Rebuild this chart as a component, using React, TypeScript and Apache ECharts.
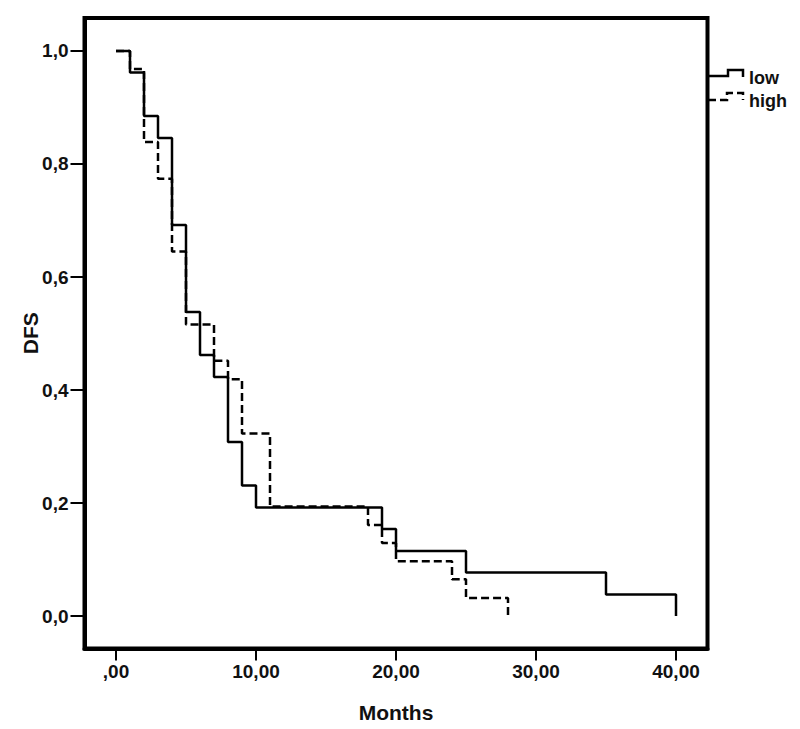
import React, { useEffect, useRef } from "react";
import * as echarts from "echarts";

// Kaplan-Meier step data (month of event, survival after event)
const lowMonths = [0, 1, 2, 3, 4, 5, 6, 7, 8, 9, 10, 19, 20, 25, 35, 40];
const lowSurvival = [1, 0.962, 0.885, 0.846, 0.692, 0.538, 0.462, 0.423, 0.308, 0.231, 0.192, 0.154, 0.115, 0.077, 0.038, 0];
const highMonths = [0, 1, 2, 3, 4, 5, 7, 8, 9, 11, 18, 19, 20, 24, 25, 28];
const highSurvival = [1, 0.968, 0.839, 0.774, 0.645, 0.516, 0.452, 0.419, 0.323, 0.194, 0.161, 0.129, 0.097, 0.065, 0.032, 0];

const seriesNames = ["low", "high"];
const xTickValues = [0, 10, 20, 30, 40];
const xTickLabels = [",00", "10,00", "20,00", "30,00", "40,00"];
const yTickValues = [0, 0.2, 0.4, 0.6, 0.8, 1.0];
const yTickLabels = ["0,0", "0,2", "0,4", "0,6", "0,8", "1,0"];
const xTitle = "Months";
const yTitle = "DFS";

const FONT = '"Liberation Sans", Arial, Helvetica, sans-serif';

export default function App() {
  const ref = useRef<HTMLDivElement | null>(null);

  useEffect(() => {
    if (!ref.current) return;
    const chart = echarts.init(ref.current, undefined, { renderer: "svg" });

    const lowData = lowMonths.map((m, i) => [m, lowSurvival[i]]);
    const highData = highMonths.map((m, i) => [m, highSurvival[i]]);

    const findLabel = (vals: number[], labels: string[], v: number) => {
      const idx = vals.findIndex((t) => Math.abs(t - v) < 1e-6);
      return idx >= 0 ? labels[idx] : "";
    };

    chart.setOption({
      animation: false,
      backgroundColor: "#ffffff",
      grid: {
        left: 84.5,
        top: 18,
        width: 623,
        height: 630.5,
        containLabel: false,
        show: true,
        borderColor: "#000",
        borderWidth: 4,
        backgroundColor: "transparent",
      },
      xAxis: {
        type: "value",
        min: -2.25,
        max: 42.25,
        axisLine: { show: true, onZero: false, lineStyle: { color: "#000", width: 4 } },
        axisTick: {
          show: true,
          inside: false,
          length: 12,
          customValues: xTickValues,
          lineStyle: { color: "#000", width: 2 },
        },
        axisLabel: {
          margin: 13,
          color: "#111",
          fontFamily: FONT,
          fontWeight: "bold",
          fontSize: 19,
          customValues: xTickValues,
          formatter: (v: number) => findLabel(xTickValues, xTickLabels, v),
        },
        splitLine: { show: false },
        name: xTitle,
        nameLocation: "middle",
        nameGap: 53,
        nameMoveOverlap: false,
        nameTextStyle: { color: "#111", fontFamily: FONT, fontWeight: "bold", fontSize: 21 },
      },
      yAxis: {
        type: "value",
        min: -0.0575,
        max: 1.0584,
        axisLine: { show: true, onZero: false, lineStyle: { color: "#000", width: 4 } },
        axisTick: {
          show: true,
          inside: false,
          length: 14,
          customValues: yTickValues,
          lineStyle: { color: "#000", width: 2 },
        },
        axisLabel: {
          margin: 16,
          color: "#111",
          fontFamily: FONT,
          fontWeight: "bold",
          fontSize: 19,
          customValues: yTickValues,
          formatter: (v: number) => findLabel(yTickValues, yTickLabels, v),
        },
        splitLine: { show: false },
        name: yTitle,
        nameLocation: "middle",
        nameGap: 44,
        nameRotate: 90,
        nameMoveOverlap: false,
        nameTextStyle: { color: "#111", fontFamily: FONT, fontWeight: "bold", fontSize: 21 },
      },
      series: [
        {
          name: seriesNames[0],
          type: "line",
          step: "end",
          data: lowData,
          showSymbol: false,
          symbol: "none",
          lineStyle: { color: "#000", width: 2.5, type: "solid" },
          z: 3,
        },
        {
          name: seriesNames[1],
          type: "line",
          step: "end",
          data: highData,
          showSymbol: false,
          symbol: "none",
          lineStyle: { color: "#000", width: 2.5, type: [8, 4] },
          z: 2,
        },
      ],
      graphic: [
        {
          type: "polyline",
          shape: { points: [[708, 76], [728, 76], [728, 70], [743, 70], [743, 77]] },
          style: { fill: "none", stroke: "#000", lineWidth: 2.5 },
          z: 10,
        },
        {
          type: "polyline",
          shape: { points: [[708, 100], [727, 100], [727, 93], [743, 93], [743, 100]] },
          style: { fill: "none", stroke: "#000", lineWidth: 2.5, lineDash: [8, 4] },
          z: 10,
        },
        {
          type: "text",
          x: 749,
          y: 78,
          style: {
            text: seriesNames[0],
            fill: "#111",
            font: `bold 18px ${FONT}`,
            textVerticalAlign: "middle",
            verticalAlign: "middle",
          },
          z: 10,
        },
        {
          type: "text",
          x: 749,
          y: 101,
          style: {
            text: seriesNames[1],
            fill: "#111",
            font: `bold 18px ${FONT}`,
            textVerticalAlign: "middle",
            verticalAlign: "middle",
          },
          z: 10,
        },
      ],
    });

    return () => {
      chart.dispose();
    };
  }, []);

  return (
    <div
      ref={ref}
      style={{ position: "fixed", left: 0, top: 0, width: 800, height: 729, background: "#fff" }}
    />
  );
}
